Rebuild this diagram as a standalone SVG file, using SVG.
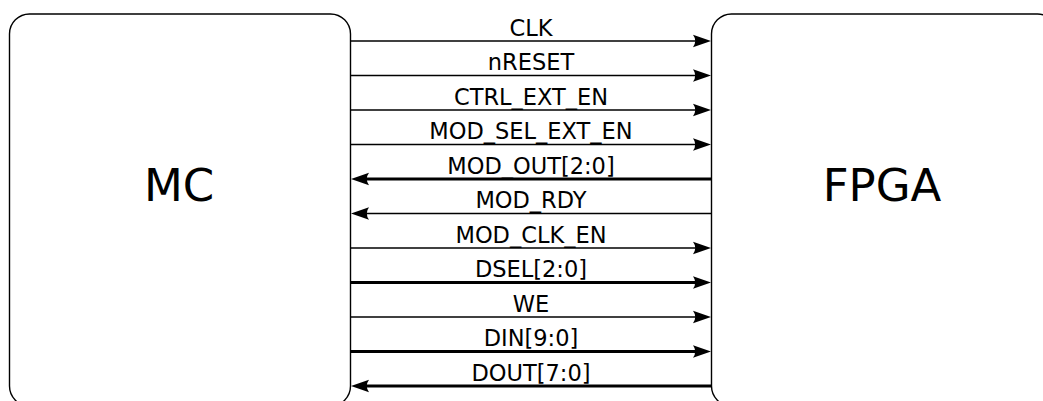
<svg xmlns="http://www.w3.org/2000/svg" xmlns:xlink="http://www.w3.org/1999/xlink" width="1043" height="401" viewBox="0 0 1043 401">
  <style>
    .block { fill: #fff; stroke: #000; stroke-width: 1.4; }
    .title { font-family: "DejaVu Sans", sans-serif; font-size: 45px; text-anchor: middle; fill: #000; }
    .sig { stroke: #000; fill: none; stroke-width: 1.4; }
    .bus { stroke: #000; fill: none; stroke-width: 2.8; }
    .lbl { font-family: "DejaVu Sans", sans-serif; font-size: 22.5px; text-anchor: middle; fill: #000; }
  </style>
  <defs>
    <!-- arrowhead pointing right, tip at origin -->
    <path id="headR" d="M0,0 L-18,-6.2 Q-13.5,0 -18,6.2 Z" fill="#000"/>
    <!-- arrowhead pointing left, tip at origin -->
    <path id="headL" d="M0,0 L18,-6.2 Q13.5,0 18,6.2 Z" fill="#000"/>
  </defs>
  <rect width="1043" height="401" fill="#fff"/>

  <g id="mc">
    <rect class="block" x="9.5" y="14" width="341" height="392" rx="20" ry="20"/>
    <text class="title" x="179" y="201">MC</text>
  </g>

  <g id="fpga">
    <rect class="block" x="711.5" y="14" width="346" height="392" rx="20" ry="20"/>
    <text class="title" x="882" y="201">FPGA</text>
  </g>

  <g id="connectors">
    <!-- MC to FPGA -->
    <line class="sig" x1="350" y1="41" x2="700" y2="41"/>
    <use xlink:href="#headR" x="711" y="41"/>
    <text class="lbl" x="531" y="35.5">CLK</text>

    <line class="sig" x1="350" y1="75.5" x2="700" y2="75.5"/>
    <use xlink:href="#headR" x="711" y="75.5"/>
    <text class="lbl" x="531" y="70">nRESET</text>

    <line class="sig" x1="350" y1="110" x2="700" y2="110"/>
    <use xlink:href="#headR" x="711" y="110"/>
    <text class="lbl" x="531" y="104.5">CTRL_EXT_EN</text>

    <line class="sig" x1="350" y1="144.5" x2="700" y2="144.5"/>
    <use xlink:href="#headR" x="711" y="144.5"/>
    <text class="lbl" x="531" y="139">MOD_SEL_EXT_EN</text>

    <!-- FPGA to MC -->
    <line class="bus" x1="712" y1="179" x2="362" y2="179"/>
    <use xlink:href="#headL" x="351" y="179"/>
    <text class="lbl" x="531" y="173.5">MOD_OUT[2:0]</text>

    <line class="sig" x1="712" y1="213.5" x2="362" y2="213.5"/>
    <use xlink:href="#headL" x="351" y="213.5"/>
    <text class="lbl" x="531" y="208">MOD_RDY</text>

    <line class="sig" x1="350" y1="248" x2="700" y2="248"/>
    <use xlink:href="#headR" x="711" y="248"/>
    <text class="lbl" x="531" y="242.5">MOD_CLK_EN</text>

    <line class="bus" x1="350" y1="282.5" x2="700" y2="282.5"/>
    <use xlink:href="#headR" x="711" y="282.5"/>
    <text class="lbl" x="531" y="277">DSEL[2:0]</text>

    <line class="sig" x1="350" y1="317" x2="700" y2="317"/>
    <use xlink:href="#headR" x="711" y="317"/>
    <text class="lbl" x="531" y="311.5">WE</text>

    <line class="bus" x1="350" y1="351.5" x2="700" y2="351.5"/>
    <use xlink:href="#headR" x="711" y="351.5"/>
    <text class="lbl" x="531" y="346">DIN[9:0]</text>

    <line class="bus" x1="712" y1="386" x2="362" y2="386"/>
    <use xlink:href="#headL" x="351" y="386"/>
    <text class="lbl" x="531" y="380.5">DOUT[7:0]</text>
  </g>
</svg>
